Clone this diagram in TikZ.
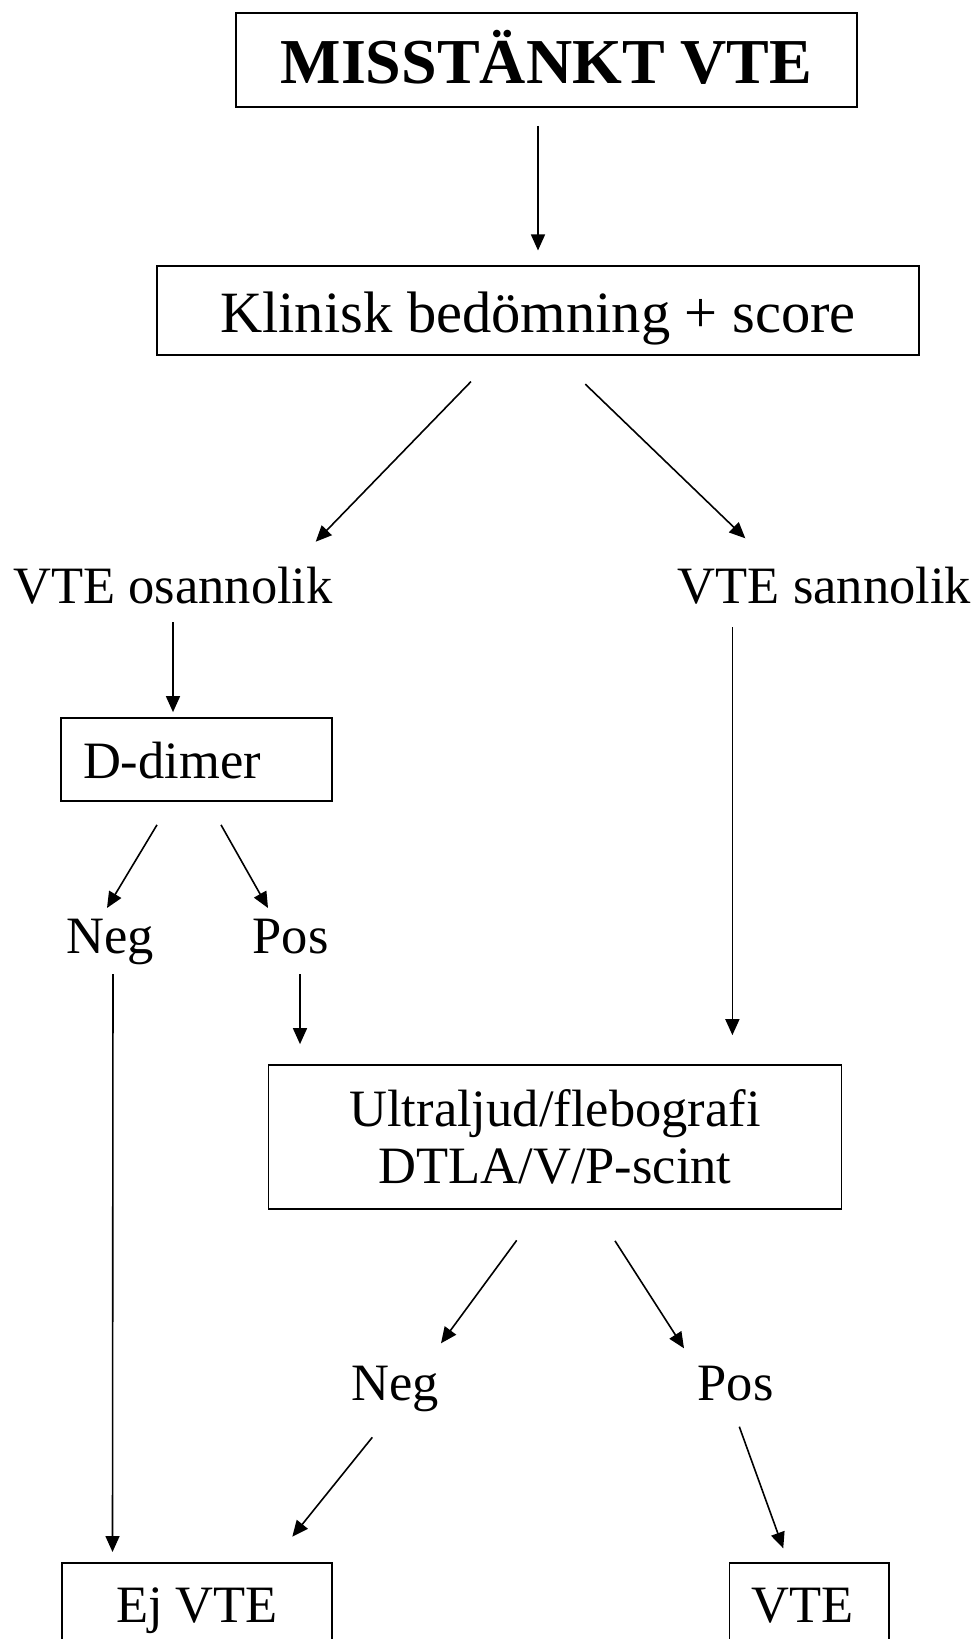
\documentclass[tikz,border=0pt]{standalone}
\usepackage{fontspec}
\setmainfont{Liberation Serif}
\usetikzlibrary{arrows.meta}

\tikzset{
  box/.style={draw, line width=1.7pt, inner sep=0pt},
  lbl/.style={inner sep=0pt, anchor=base, font=\fontsize{52.5}{57}\selectfont},
  arr/.style={-{Triangle[length=16pt,width=14pt]}, line width=1.6pt},
}

\begin{document}
\begin{tikzpicture}[x=1pt, y=-1pt]
  \useasboundingbox (0,0) rectangle (979,1639);
  \clip (0,0) rectangle (979,1639);

  % boxes and labels
  \node[box, minimum width=621pt, minimum height=94pt, text height=47.2pt, text depth=0pt,
        font=\bfseries\fontsize{64}{70}\selectfont]
        (title) at (546.5,60) {MISSTÄNKT VTE\hspace{24pt}};
  \node[box, minimum width=762pt, minimum height=89pt, text height=43.8pt, text depth=0pt,
        font=\fontsize{58.5}{64}\selectfont]
        (klin) at (538,310.8) {Klinisk bedömning + score};
  \node[lbl] (osann) at (173,603) {VTE osannolik};
  \node[lbl] (sann) at (824.5,603) {VTE sannolik};
  \node[box, minimum width=271pt, minimum height=83pt, text width=227pt, inner xsep=22pt,
        align=left, text height=37pt, text depth=0pt, font=\fontsize{52.5}{57}\selectfont]
        (ddimer) at (196.5,759.5) {D-dimer};
  \node[lbl] (neg1) at (110.5,953) {Neg};
  \node[lbl] (pos1) at (290.5,953) {Pos};
  \node[box, minimum width=573pt, minimum height=144pt, align=center,
        font=\fontsize{52.5}{57}\selectfont]
        (ultra) at (555,1137) {Ultraljud/flebografi\\DTLA/V/P-scint};
  \node[lbl] (neg2) at (395,1400) {Neg};
  \node[lbl] (pos2) at (735.5,1400) {Pos};
  \node[box, anchor=north, minimum width=270pt, minimum height=83pt, text height=36.4pt,
        text depth=0pt, font=\fontsize{52.5}{57}\selectfont]
        (ejvte) at (197,1562) {Ej VTE};
  \node[box, anchor=north, minimum width=159.5pt, minimum height=83pt, text width=115.5pt,
        inner xsep=22pt, align=left, text height=36.4pt, text depth=0pt,
        font=\fontsize{52.5}{57}\selectfont]
        (vte) at (809.25,1562) {VTE};

  % connectors
  \draw[arr] ([shift={(-8.5,18)}]title.south) -- ([shift={(0,-15)}]klin.north);
  \draw[arr] ([shift={(-67,25.4)}]klin.south) -- ([shift={(142.7,-61.3)}]osann.base);
  \draw[arr] ([shift={(47.3,28)}]klin.south) -- ([shift={(-79.2,-64.7)}]sann.base);
  \draw[arr] ([shift={(0,19)}]osann.base) -- ([shift={(-23.5,-5)}]ddimer.north);
  \draw[arr] ([shift={(-39.5,23)}]ddimer.south) -- ([shift={(-3.5,-45)}]neg1.base);
  \draw[arr] ([shift={(24.5,23)}]ddimer.south) -- ([shift={(-22.5,-45)}]pos1.base);
  \draw[arr] ([shift={(2.5,21)}]neg1.base) -- ([shift={(-84.5,-10)}]ejvte.north);
  \draw[arr] ([shift={(9.5,21)}]pos1.base) -- ([shift={(-255,-20)}]ultra.north);
  \draw[arr] ([shift={(-92.1,24)}]sann.base) -- ([shift={(177.4,-29)}]ultra.north);
  \draw[arr] ([shift={(-38.3,30.5)}]ultra.south) -- ([shift={(46,-56.7)}]neg2.base);
  \draw[arr] ([shift={(60,31)}]ultra.south) -- ([shift={(-51.5,-51.7)}]pos2.base);
  \draw[arr] ([shift={(-22.7,37.3)}]neg2.base) -- ([shift={(95.3,-25.3)}]ejvte.north);
  \draw[arr] ([shift={(3.8,26.7)}]pos2.base) -- ([shift={(-26,-13.7)}]vte.north);
\end{tikzpicture}
\end{document}
